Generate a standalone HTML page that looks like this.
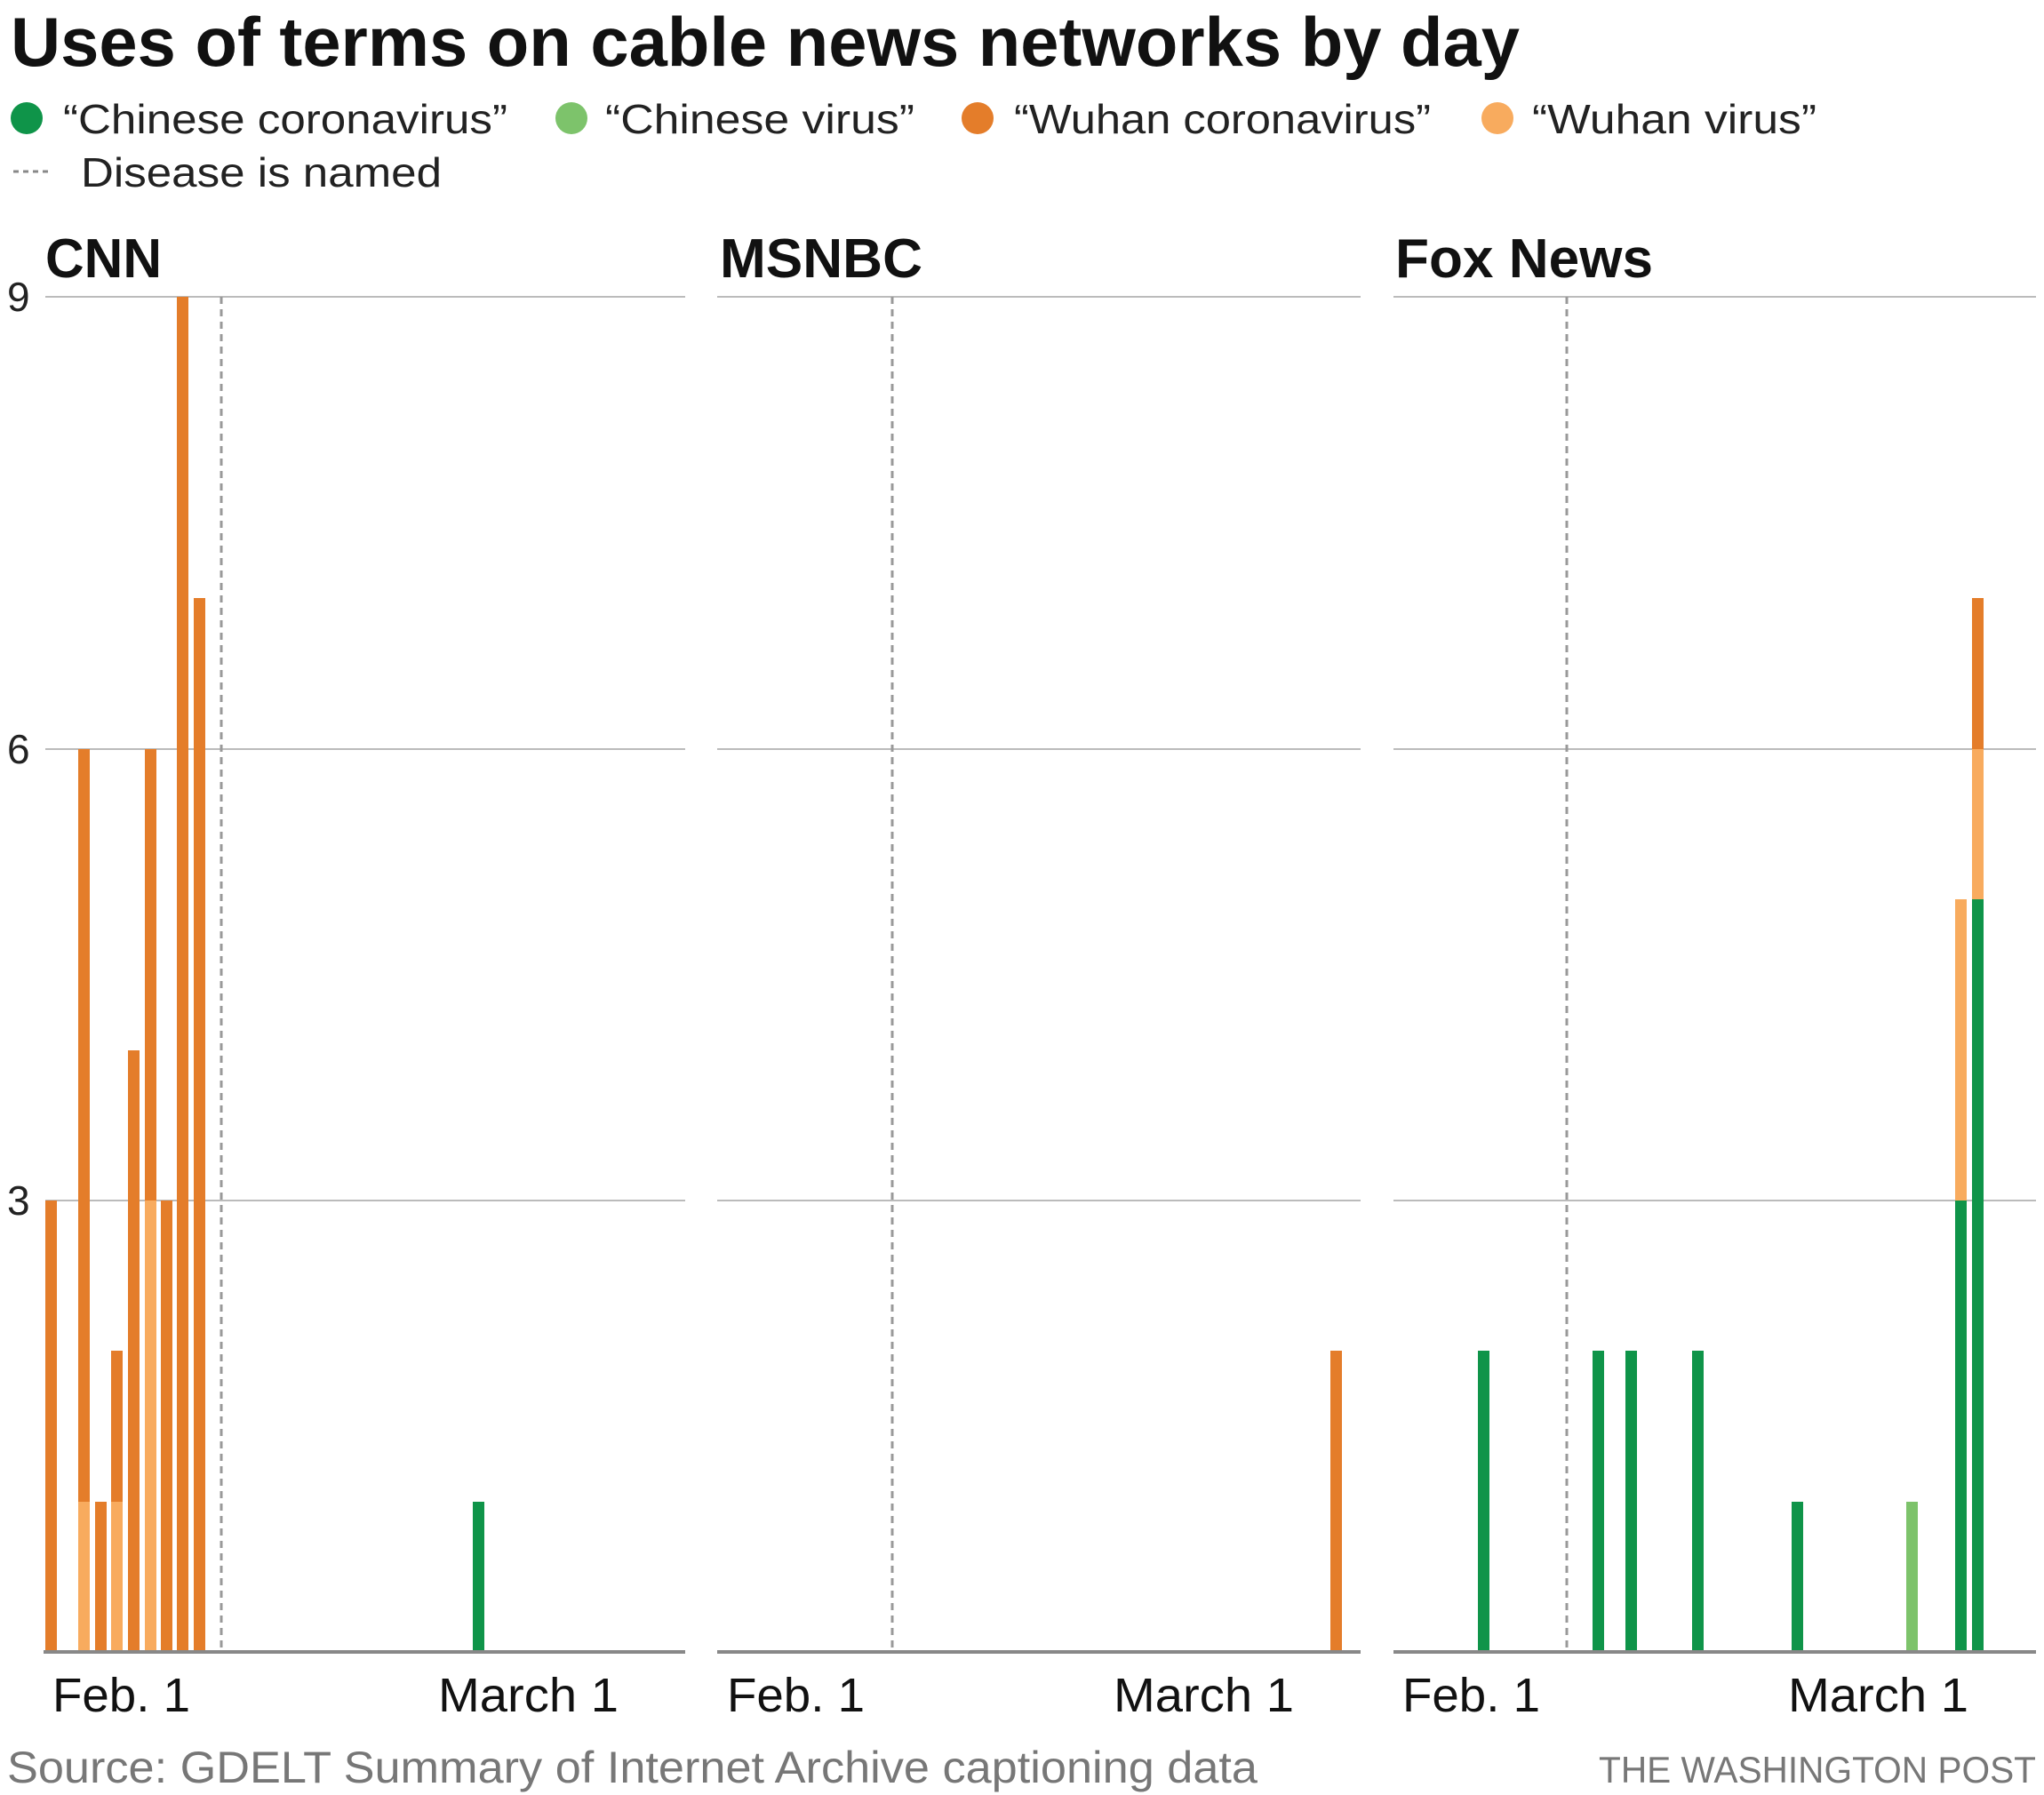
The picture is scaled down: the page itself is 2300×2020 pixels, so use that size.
<!DOCTYPE html>
<html><head><meta charset="utf-8"><style>
html,body{margin:0;padding:0;background:#fff;}
svg{display:block;}
text{font-family:"Liberation Sans Narrow","Liberation Sans",sans-serif;}
</style></head><body>
<svg width="2300" height="2020" viewBox="0 0 2300 2020" xmlns="http://www.w3.org/2000/svg">
<text x="12" y="74" font-size="78" font-weight="bold" fill="#111" textLength="1698" lengthAdjust="spacingAndGlyphs">Uses of terms on cable news networks by day</text>
<g font-size="46" fill="#222">
<circle cx="30" cy="133" r="18" fill="#0f9449"/><text x="71" y="150" textLength="500" lengthAdjust="spacingAndGlyphs">“Chinese coronavirus”</text>
<circle cx="643" cy="133" r="18" fill="#7dc36b"/><text x="681" y="150" textLength="348" lengthAdjust="spacingAndGlyphs">“Chinese virus”</text>
<circle cx="1100" cy="133" r="18" fill="#e47d2a"/><text x="1141" y="150" textLength="469" lengthAdjust="spacingAndGlyphs">“Wuhan coronavirus”</text>
<circle cx="1685" cy="133" r="18" fill="#f8ab5e"/><text x="1724" y="150" textLength="320" lengthAdjust="spacingAndGlyphs">“Wuhan virus”</text>
<line x1="15" y1="193" x2="59" y2="193" stroke="#888" stroke-width="3" stroke-dasharray="6,5"/>
<text x="91" y="210" textLength="406" lengthAdjust="spacingAndGlyphs">Disease is named</text>
</g>
<g font-size="62" font-weight="bold" fill="#111">
<text x="51" y="312" textLength="131" lengthAdjust="spacingAndGlyphs">CNN</text>
<text x="810" y="312" textLength="228" lengthAdjust="spacingAndGlyphs">MSNBC</text>
<text x="1570" y="312" textLength="290" lengthAdjust="spacingAndGlyphs">Fox News</text>
</g>
<g stroke="#bbb" stroke-width="2">
<line x1="51" y1="334" x2="771" y2="334"/><line x1="51" y1="843" x2="771" y2="843"/><line x1="51" y1="1351" x2="771" y2="1351"/>
<line x1="807" y1="334" x2="1531" y2="334"/><line x1="807" y1="843" x2="1531" y2="843"/><line x1="807" y1="1351" x2="1531" y2="1351"/>
<line x1="1568" y1="334" x2="2291" y2="334"/><line x1="1568" y1="843" x2="2291" y2="843"/><line x1="1568" y1="1351" x2="2291" y2="1351"/>
</g>
<g font-size="46" fill="#222">
<text x="8" y="350">9</text><text x="8" y="859">6</text><text x="8" y="1367">3</text>
</g>
<g stroke="#999" stroke-width="3" stroke-dasharray="8,6">
<line x1="249" y1="334" x2="249" y2="1859"/>
<line x1="1004" y1="334" x2="1004" y2="1859"/>
<line x1="1763" y1="334" x2="1763" y2="1859"/>
</g>
<!-- unit 169.4 ; base 1859 -->
<g>
<!-- CNN -->
<rect x="51" y="1351" width="13" height="508" fill="#e47d2a"/>
<rect x="88" y="843" width="13" height="847" fill="#e47d2a"/><rect x="88" y="1690" width="13" height="169" fill="#f8ab5e"/>
<rect x="107" y="1690" width="13" height="169" fill="#e47d2a"/>
<rect x="125" y="1520" width="13" height="170" fill="#e47d2a"/><rect x="125" y="1690" width="13" height="169" fill="#f8ab5e"/>
<rect x="144" y="1182" width="13" height="677" fill="#e47d2a"/>
<rect x="163" y="843" width="13" height="508" fill="#e47d2a"/><rect x="163" y="1351" width="13" height="508" fill="#f8ab5e"/>
<rect x="181" y="1351" width="13" height="508" fill="#e47d2a"/>
<rect x="199" y="334" width="13" height="1525" fill="#e47d2a"/>
<rect x="218" y="673" width="13" height="1186" fill="#e47d2a"/>
<rect x="532" y="1690" width="13" height="169" fill="#0f9449"/>
<!-- MSNBC -->
<rect x="1497" y="1520" width="13" height="339" fill="#e47d2a"/>
<!-- Fox -->
<rect x="1663" y="1520" width="13" height="339" fill="#0f9449"/>
<rect x="1792" y="1520" width="13" height="339" fill="#0f9449"/>
<rect x="1829" y="1520" width="13" height="339" fill="#0f9449"/>
<rect x="1904" y="1520" width="13" height="339" fill="#0f9449"/>
<rect x="2016" y="1690" width="13" height="169" fill="#0f9449"/>
<rect x="2145" y="1690" width="13" height="169" fill="#7dc36b"/>
<rect x="2200" y="1012" width="13" height="339" fill="#f8ab5e"/><rect x="2200" y="1351" width="13" height="508" fill="#0f9449"/>
<rect x="2219" y="673" width="13" height="170" fill="#e47d2a"/><rect x="2219" y="843" width="13" height="170" fill="#f8ab5e"/><rect x="2219" y="1012" width="13" height="847" fill="#0f9449"/>
</g>
<g stroke="#888" stroke-width="4">
<line x1="49" y1="1859" x2="771" y2="1859"/>
<line x1="807" y1="1859" x2="1531" y2="1859"/>
<line x1="1568" y1="1859" x2="2291" y2="1859"/>
</g>
<g font-size="54" fill="#111">
<text x="59" y="1926" textLength="155" lengthAdjust="spacingAndGlyphs">Feb. 1</text>
<text x="493" y="1926" textLength="203" lengthAdjust="spacingAndGlyphs">March 1</text>
<text x="818" y="1926" textLength="155" lengthAdjust="spacingAndGlyphs">Feb. 1</text>
<text x="1253" y="1926" textLength="203" lengthAdjust="spacingAndGlyphs">March 1</text>
<text x="1578" y="1926" textLength="155" lengthAdjust="spacingAndGlyphs">Feb. 1</text>
<text x="2012" y="1926" textLength="203" lengthAdjust="spacingAndGlyphs">March 1</text>
</g>
<text x="8" y="2006" font-size="50" fill="#777" textLength="1407" lengthAdjust="spacingAndGlyphs">Source: GDELT Summary of Internet Archive captioning data</text>
<text x="2291" y="2006" font-size="42" fill="#777" text-anchor="end" textLength="492" lengthAdjust="spacingAndGlyphs">THE WASHINGTON POST</text>
</svg>
</body></html>
